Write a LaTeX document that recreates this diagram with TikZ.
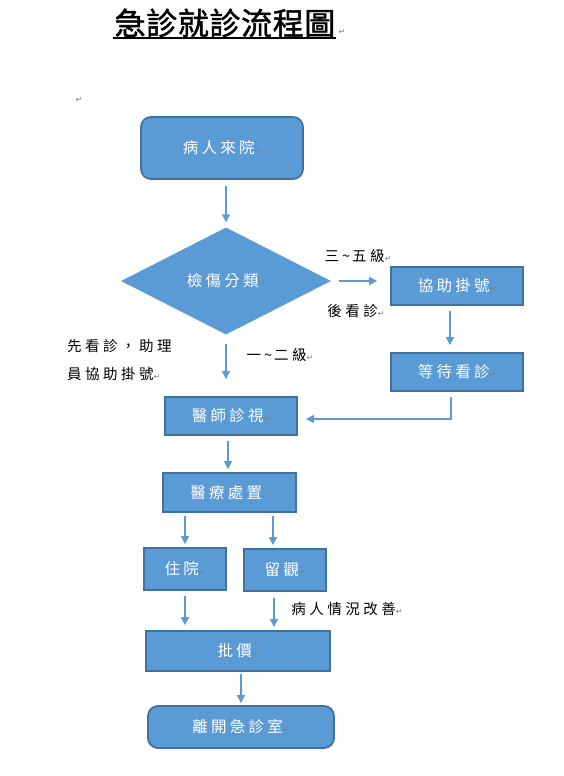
\documentclass[tikz,border=0pt]{standalone}
\usepackage{fontspec}
\setmainfont{Noto Sans CJK TC}
\newfontfamily\titlefont{Noto Sans CJK TC}[FakeBold=1.5,LetterSpace=2]
\newfontfamily\boxfont{Noto Sans CJK TC}[LetterSpace=21]
\newfontfamily\lblfont{Noto Sans CJK TC}[LetterSpace=24]
\newfontfamily\plainfont{Noto Sans CJK TC}
\newfontfamily\symfont{DejaVu Sans}
\usetikzlibrary{shapes.geometric,arrows.meta}
\definecolor{boxfill}{HTML}{5B9BD5}
\definecolor{boxline}{HTML}{41719C}
\definecolor{markgray}{HTML}{808080}
\newcommand{\pmark}{{\symfont\fontsize{8}{8}\selectfont\color{markgray}↵}}
\newcommand{\smalltilde}{{\plainfont\kern3pt\textasciitilde\kern2pt}}
\begin{document}
\begin{tikzpicture}[x=1pt,y=-1pt,
  flowbox/.style={draw=boxline,line width=1.8pt,fill=boxfill,text=white,
    font=\boxfont\fontsize{15.5}{16}\selectfont,inner sep=0pt,align=center},
  roundbox/.style={flowbox,rounded corners=10pt},
  decision/.style={diamond,fill=boxfill,text=white,inner sep=0pt,
    font=\boxfont\fontsize{15.5}{16}\selectfont},
  lbl/.style={font=\lblfont\fontsize{14.5}{15}\selectfont,text=black,inner sep=0pt},
  arr/.style={draw=boxfill,line width=1.2pt,-{Triangle[width=8pt,length=8pt]}}]
\useasboundingbox[fill=white] (0,0) rectangle (563,776);
% title
\node[font=\titlefont\fontsize{31}{31}\selectfont,inner sep=0pt] (title) at (225,23) {急診就診流程圖};
\draw[line width=2pt] (113,38.5) -- (336,38.5);
\node[inner sep=0pt] (tm) at (342,32) {\pmark};
\node[inner sep=0pt] (pm) at (79,100) {\pmark};
% nodes
\node[roundbox,minimum width=162pt,minimum height=62pt] (n1) at (222,148) {病人來院\pmark};
\node[decision,minimum width=210pt,minimum height=107pt] (d) at (226,281) {檢傷分類\pmark};
\node[flowbox,minimum width=132pt,minimum height=38pt] (n3) at (457,286) {協助掛號\pmark};
\node[flowbox,minimum width=132pt,minimum height=38pt] (n4) at (457,372) {等待看診\pmark};
\node[flowbox,minimum width=132pt,minimum height=38pt] (n5) at (231,416) {醫師診視\pmark};
\node[flowbox,minimum width=133pt,minimum height=39pt] (n6) at (229.5,492.5) {醫療處置\pmark};
\node[flowbox,minimum width=82pt,minimum height=42pt] (n7) at (185,569) {住院\pmark};
\node[flowbox,minimum width=82pt,minimum height=42pt] (n8) at (285,570) {留觀\pmark};
\node[flowbox,minimum width=184pt,minimum height=40pt] (n9) at (238,651) {批價\pmark};
\node[roundbox,minimum width=186pt,minimum height=42pt] (n10) at (241,727) {離開急診室\pmark};
% labels
\node[lbl] (l1) at (358,256) {三\smalltilde 五級\pmark};
\node[lbl] (l2) at (356,311) {後看診\pmark};
\node[lbl] (l3) at (280,355) {一\smalltilde 二級\pmark};
\node[lbl,align=left,anchor=north west,font=\lblfont\fontsize{14.5}{28}\selectfont] (l4) at (67,339) {先看診，助理\\員協助掛號\pmark};
\node[lbl] (l5) at (347,609) {病人情況改善\pmark};
% connectors
\draw[arr,shorten <=6pt,shorten >=5pt] (n1.south -| d.north) -- (d.north);
\draw[arr,shorten <=8pt,shorten >=13pt] (d.east) -- (d.east -| n3.west);
\draw[arr,shorten <=5pt,shorten >=7pt] ([xshift=-7pt]n3.south) -- ([xshift=-7pt]n4.north);
\draw[arr,shorten <=5pt] ([xshift=-6pt]n4.south) |- ([xshift=8pt,yshift=-3pt]n5.east);
\draw[arr,shorten <=9pt,shorten >=17pt] (d.south) -- (d.south |- n5.north);
\draw[arr,shorten <=5pt,shorten >=3pt] ([xshift=-3pt]n5.south) -- ([xshift=-3pt]n5.south |- n6.north);
\draw[arr,shorten <=3pt,shorten >=3pt] (n7.north |- n6.south) -- (n7.north);
\draw[arr,shorten <=3pt,shorten >=3pt] ([xshift=-12pt]n8.north |- n6.south) -- ([xshift=-12pt]n8.north);
\draw[arr,shorten <=5pt,shorten >=5pt] (n7.south) -- (n7.south |- n9.north);
\draw[arr,shorten <=6pt,shorten >=3pt] ([xshift=-11pt]n8.south) -- ([xshift=-11pt]n8.south |- n9.north);
\draw[arr,shorten <=2pt,shorten >=2pt] (n10.north |- n9.south) -- (n10.north);
\end{tikzpicture}
\end{document}
